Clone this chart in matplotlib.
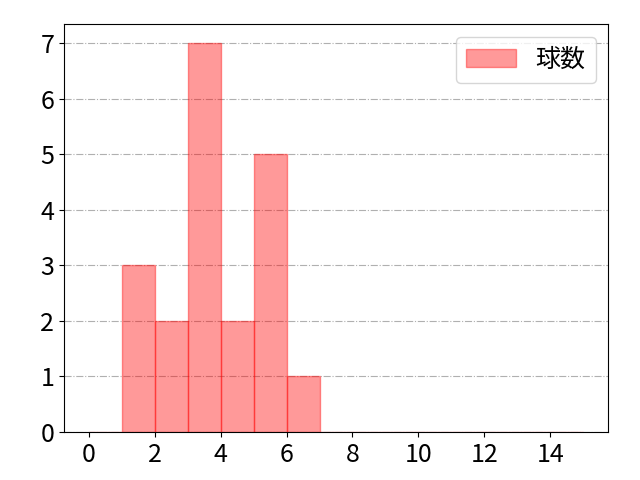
import matplotlib
matplotlib.use("Agg")
import matplotlib.pyplot as plt
import numpy as np

plt.rcParams['font.family'] = ['Noto Sans CJK JP', 'DejaVu Sans']

bin_edges = list(range(0, 16))
counts = [0, 3, 2, 7, 2, 5, 1, 0, 0, 0, 0, 0, 0, 0, 0]
label = "球数"

fig, ax = plt.subplots(figsize=(6.4, 4.8), dpi=100)
fig.subplots_adjust(left=0.1, right=0.95, top=0.95, bottom=0.1)
ax.hist(bin_edges[:-1], bins=bin_edges, weights=counts, color='red', alpha=0.4,
        edgecolor='red', label=label)
ax.grid(axis='y', linestyle='-.', color='#b0b0b0', linewidth=0.8)
ax.set_axisbelow(True)
ax.set_xticks(range(0, 16, 2))
ax.set_yticks(range(0, 8))
ax.tick_params(labelsize=18)
ax.legend(fontsize=18, loc='upper right')
fig.savefig("out.png")
